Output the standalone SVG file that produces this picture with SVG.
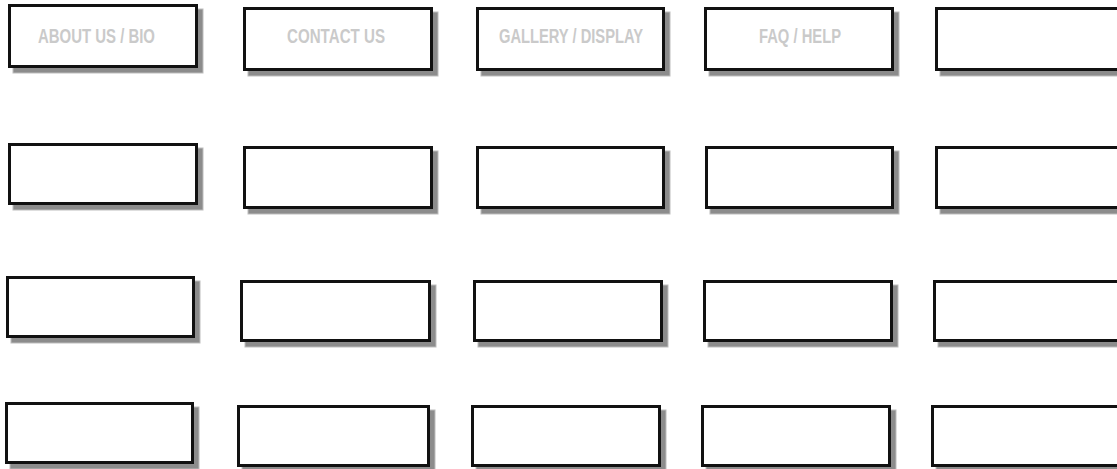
<svg xmlns="http://www.w3.org/2000/svg" width="1117" height="469" viewBox="0 0 1117 469">
<style>
.sh{fill:#8c8c8c;stroke:#bdbdbd;stroke-width:1}
.bx{fill:#ffffff;stroke:#111111;stroke-width:3}
.lb{fill:#cacaca;font-family:"Liberation Sans",Arial,sans-serif;font-weight:bold;font-size:21px}
</style>
<rect width="1117" height="469" fill="#ffffff"/>
<g id="n-r1c1"><rect class="sh" x="13" y="9" width="190" height="64"/><rect class="bx" x="9.5" y="5.5" width="187" height="61"/><text class="lb" x="38" y="43" textLength="117" lengthAdjust="spacingAndGlyphs">ABOUT US / BIO</text></g>
<g id="n-r1c2"><rect class="sh" x="248" y="12" width="190" height="64"/><rect class="bx" x="244.5" y="8.5" width="187" height="61"/><text class="lb" x="287" y="43" textLength="98" lengthAdjust="spacingAndGlyphs">CONTACT US</text></g>
<g id="n-r1c3"><rect class="sh" x="481" y="12" width="189" height="64"/><rect class="bx" x="477.5" y="8.5" width="186" height="61"/><text class="lb" x="499" y="43" textLength="144" lengthAdjust="spacingAndGlyphs">GALLERY / DISPLAY</text></g>
<g id="n-r1c4"><rect class="sh" x="709" y="12" width="190" height="64"/><rect class="bx" x="705.5" y="8.5" width="187" height="61"/><text class="lb" x="759" y="43" textLength="82" lengthAdjust="spacingAndGlyphs">FAQ / HELP</text></g>
<g id="n-r1c5"><rect class="sh" x="940" y="12" width="200" height="64"/><rect class="bx" x="936.5" y="8.5" width="197" height="61"/></g>

<g id="n-r2c1"><rect class="sh" x="13" y="148" width="190" height="62"/><rect class="bx" x="9.5" y="144.5" width="187" height="59"/></g>
<g id="n-r2c2"><rect class="sh" x="248" y="151" width="190" height="63"/><rect class="bx" x="244.5" y="147.5" width="187" height="60"/></g>
<g id="n-r2c3"><rect class="sh" x="481" y="151" width="189" height="63"/><rect class="bx" x="477.5" y="147.5" width="186" height="60"/></g>
<g id="n-r2c4"><rect class="sh" x="710" y="151" width="189" height="63"/><rect class="bx" x="706.5" y="147.5" width="186" height="60"/></g>
<g id="n-r2c5"><rect class="sh" x="940" y="151" width="200" height="63"/><rect class="bx" x="936.5" y="147.5" width="197" height="60"/></g>

<g id="n-r3c1"><rect class="sh" x="11" y="281" width="189" height="62"/><rect class="bx" x="7.5" y="277.5" width="186" height="59"/></g>
<g id="n-r3c2"><rect class="sh" x="245" y="285" width="191" height="62"/><rect class="bx" x="241.5" y="281.5" width="188" height="59"/></g>
<g id="n-r3c3"><rect class="sh" x="478" y="285" width="190" height="62"/><rect class="bx" x="474.5" y="281.5" width="187" height="59"/></g>
<g id="n-r3c4"><rect class="sh" x="708" y="285" width="190" height="62"/><rect class="bx" x="704.5" y="281.5" width="187" height="59"/></g>
<g id="n-r3c5"><rect class="sh" x="938" y="285" width="200" height="62"/><rect class="bx" x="934.5" y="281.5" width="197" height="59"/></g>

<g id="n-r4c1"><rect class="sh" x="10" y="407" width="189" height="62"/><rect class="bx" x="6.5" y="403.5" width="186" height="59"/></g>
<g id="n-r4c2"><rect class="sh" x="242" y="410" width="193" height="62"/><rect class="bx" x="238.5" y="406.5" width="190" height="59"/></g>
<g id="n-r4c3"><rect class="sh" x="476" y="410" width="190" height="62"/><rect class="bx" x="472.5" y="406.5" width="187" height="59"/></g>
<g id="n-r4c4"><rect class="sh" x="706" y="410" width="190" height="62"/><rect class="bx" x="702.5" y="406.5" width="187" height="59"/></g>
<g id="n-r4c5"><rect class="sh" x="936" y="410" width="200" height="62"/><rect class="bx" x="932.5" y="406.5" width="197" height="59"/></g>
<g id="connectors"></g>
</svg>
